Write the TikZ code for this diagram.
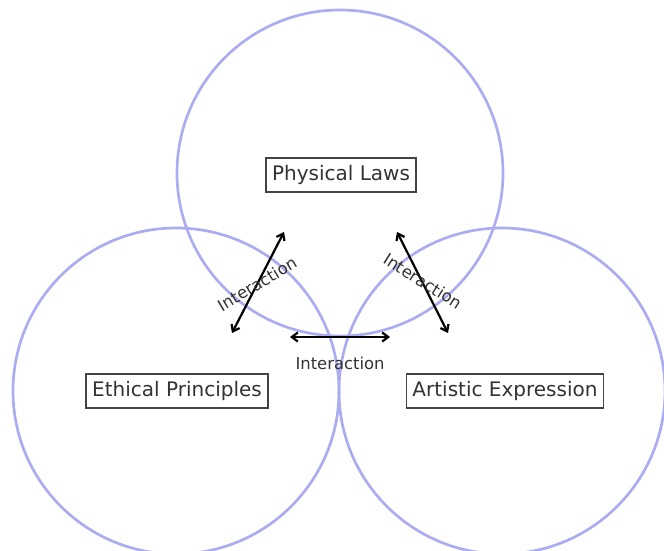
\documentclass[tikz,border=0pt]{standalone}
\usepackage{fontspec}
\setmainfont{DejaVu Sans}
\usetikzlibrary{arrows.meta}
\definecolor{ring}{RGB}{172,172,242}
\definecolor{boxline}{RGB}{68,68,68}
\definecolor{txt}{RGB}{51,51,51}
\tikzset{
  ring/.style={draw=ring, line width=2.7pt},
  label box/.style={draw=boxline, line width=1.6pt, fill=white, text=txt,
    font=\fontsize{20}{23}\selectfont, inner xsep=6pt, minimum height=34pt, inner ysep=4pt},
  interact/.style={line width=2.2pt, {Straight Barb[length=6pt,width=9pt,line width=2.2pt]}-{Straight Barb[length=6pt,width=9pt,line width=2.2pt]}},
  inter label/.style={text=txt, font=\fontsize{16.4}{18}\selectfont, inner sep=0pt}
}
\begin{document}
\begin{tikzpicture}[x=1pt,y=-1pt]
\useasboundingbox (0,0) rectangle (664,551);
\draw[ring] (340,173) circle[radius=163];
\draw[ring] (176,391) circle[radius=163];
\draw[ring] (502,391) circle[radius=163];
\node[label box] (phys) at (341,175) {Physical Laws};
\node[label box] (eth) at (177,391) {Ethical Principles};
\node[label box] (art) at (505,391) {Artistic Expression};
\coordinate (l1) at (232,333);
\coordinate (l2) at (284,232);
\coordinate (r1) at (397,232);
\coordinate (r2) at (448,333);
\coordinate (h1) at (290,337);
\coordinate (h2) at (390,337);
\draw[interact] (l1) -- (l2);
\draw[interact] (r1) -- (r2);
\draw[interact] (h1) -- (h2);
\node[inter label, rotate=31] (tl) at (257,284) {Interaction};
\node[inter label, rotate=-32] (tr) at (423,281) {Interaction};
\node[inter label] (tb) at (340,363) {Interaction};
\end{tikzpicture}
\end{document}
